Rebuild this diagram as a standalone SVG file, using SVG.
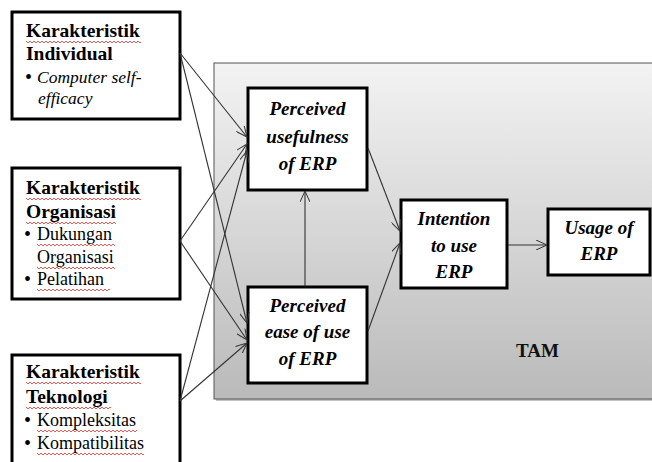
<svg xmlns="http://www.w3.org/2000/svg" width="652" height="462" viewBox="0 0 652 462">
<defs>
<linearGradient id="tamg" x1="0" y1="0" x2="0" y2="1">
<stop offset="0" stop-color="#f3f3f3"/>
<stop offset="1" stop-color="#bababa"/>
</linearGradient>
<marker id="arr" viewBox="0 0 12 10" refX="11" refY="5" markerWidth="12" markerHeight="10" markerUnits="userSpaceOnUse" orient="auto">
<path d="M0,0 L11,5 L0,10" fill="none" stroke="#333" stroke-width="1"/>
</marker>
<path id="sq" d="M0,0 l2,2 l2,-2 l2,2 l2,-2 l2,2 l2,-2 l2,2 l2,-2 l2,2 l2,-2 l2,2 l2,-2 l2,2 l2,-2 l2,2 l2,-2 l2,2 l2,-2 l2,2 l2,-2 l2,2 l2,-2 l2,2 l2,-2 l2,2 l2,-2 l2,2 l2,-2 l2,2 l2,-2 l2,2 l2,-2 l2,2 l2,-2 l2,2 l2,-2 l2,2 l2,-2 l2,2 l2,-2 l2,2 l2,-2 l2,2 l2,-2 l2,2 l2,-2 l2,2 l2,-2 l2,2 l2,-2 l2,2 l2,-2 l2,2 l2,-2 l2,2 l2,-2 l2,2 l2,-2 l2,2 l2,-2 l2,2 l2,-2"/>
<clipPath id="c115"><rect x="0" y="-3" width="115" height="8"/></clipPath>
<clipPath id="c100"><rect x="0" y="-3" width="100" height="8"/></clipPath>
<clipPath id="c88"><rect x="0" y="-3" width="90" height="8"/></clipPath>
<clipPath id="c77"><rect x="0" y="-3" width="78" height="8"/></clipPath>
<clipPath id="c72"><rect x="0" y="-3" width="73" height="8"/></clipPath>
<clipPath id="c86"><rect x="0" y="-3" width="85" height="8"/></clipPath>
<clipPath id="c110"><rect x="0" y="-3" width="107" height="8"/></clipPath>
</defs>
<style>
.box{fill:#fff;stroke:#000;stroke-width:3}
.hd{font-family:"Liberation Serif","Times New Roman",serif;font-size:19.5px;font-weight:bold;fill:#000}
.it{font-family:"Liberation Serif","Times New Roman",serif;font-size:17.5px;font-style:italic;fill:#000}
.rg{font-family:"Liberation Serif","Times New Roman",serif;font-size:18px;fill:#000}
.bl{font-family:"Liberation Serif","Times New Roman",serif;font-size:20px;fill:#000}
.nd{font-family:"Liberation Serif","Times New Roman",serif;font-size:19px;font-weight:bold;font-style:italic;fill:#000;text-anchor:middle}
.tam{font-family:"Liberation Serif","Times New Roman",serif;font-size:19px;font-weight:bold;fill:#111}
.sq{fill:none;stroke:#e03030;stroke-width:0.8}
.cn{fill:none;stroke:#333;stroke-width:1.1;marker-end:url(#arr)}
</style>

<g id="tam-frame">
<rect x="216" y="65" width="440" height="336" fill="#888" opacity="0.5"/>
<rect x="214" y="63" width="440" height="336" fill="url(#tamg)" stroke="#555" stroke-width="1"/>
<text class="tam" x="516" y="357">TAM</text>
</g>

<g id="karakteristik-individual">
<rect class="box" x="12" y="12" width="168" height="107"/>
<text class="hd" x="26" y="37">Karakteristik</text>
<text class="hd" x="26" y="60">Individual</text>
<text class="bl" x="25" y="84">•</text>
<text class="it" x="37" y="83">Computer self-</text>
<text class="it" x="38" y="104">efficacy</text>
<use href="#sq" class="sq" x="26" y="41" clip-path="url(#c115)"/>
</g>

<g id="karakteristik-organisasi">
<rect class="box" x="12" y="168" width="168" height="131"/>
<text class="hd" x="26" y="194">Karakteristik</text>
<text class="hd" x="26" y="218">Organisasi</text>
<text class="bl" x="24" y="241">•</text>
<text class="rg" x="37" y="240">Dukungan</text>
<text class="rg" x="37" y="263">Organisasi</text>
<text class="bl" x="24" y="286">•</text>
<text class="rg" x="37" y="285">Pelatihan</text>
<use href="#sq" class="sq" x="26" y="198" clip-path="url(#c115)"/>
<use href="#sq" class="sq" x="26" y="222" clip-path="url(#c88)"/>
<use href="#sq" class="sq" x="37" y="244" clip-path="url(#c77)"/>
<use href="#sq" class="sq" x="37" y="267" clip-path="url(#c77)"/>
<use href="#sq" class="sq" x="37" y="289" clip-path="url(#c72)"/>
</g>

<g id="karakteristik-teknologi">
<rect class="box" x="12" y="355" width="168" height="115"/>
<text class="hd" x="26" y="378">Karakteristik</text>
<text class="hd" x="26" y="403">Teknologi</text>
<text class="bl" x="24" y="427">•</text>
<text class="rg" x="37" y="426">Kompleksitas</text>
<text class="bl" x="24" y="450">•</text>
<text class="rg" x="37" y="449">Kompatibilitas</text>
<use href="#sq" class="sq" x="26" y="382" clip-path="url(#c115)"/>
<use href="#sq" class="sq" x="26" y="407" clip-path="url(#c86)"/>
<use href="#sq" class="sq" x="37" y="430" clip-path="url(#c100)"/>
<use href="#sq" class="sq" x="37" y="453" clip-path="url(#c110)"/>
</g>

<g id="perceived-usefulness">
<rect class="box" x="248" y="88" width="119" height="102"/>
<text class="nd" x="307.5" y="115">Perceived</text>
<text class="nd" x="307.5" y="143">usefulness</text>
<text class="nd" x="307.5" y="170">of ERP</text>
</g>

<g id="perceived-ease-of-use">
<rect class="box" x="248" y="287" width="119" height="96"/>
<text class="nd" x="307.5" y="312">Perceived</text>
<text class="nd" x="307.5" y="338">ease of use</text>
<text class="nd" x="307.5" y="365">of ERP</text>
</g>

<g id="intention-to-use">
<rect class="box" x="401" y="200" width="106" height="88"/>
<text class="nd" x="454" y="225">Intention</text>
<text class="nd" x="454" y="252">to use</text>
<text class="nd" x="454" y="278">ERP</text>
</g>

<g id="usage-of-erp">
<rect class="box" x="548" y="209" width="102" height="66"/>
<text class="nd" x="599" y="234">Usage of</text>
<text class="nd" x="599" y="260">ERP</text>
</g>

<g id="connectors">
<line class="cn" x1="180" y1="53" x2="247" y2="137"/>
<line class="cn" x1="180" y1="53" x2="247" y2="323"/>
<line class="cn" x1="180" y1="241" x2="247" y2="144"/>
<line class="cn" x1="180" y1="241" x2="247" y2="340"/>
<line class="cn" x1="180" y1="401" x2="247" y2="151"/>
<line class="cn" x1="180" y1="401" x2="247" y2="343"/>
<line class="cn" x1="305" y1="286" x2="305" y2="191"/>
<line class="cn" x1="368" y1="148" x2="400" y2="231"/>
<line class="cn" x1="368" y1="331" x2="400" y2="243"/>
<line class="cn" x1="508" y1="245" x2="547" y2="245"/>
</g>
</svg>
